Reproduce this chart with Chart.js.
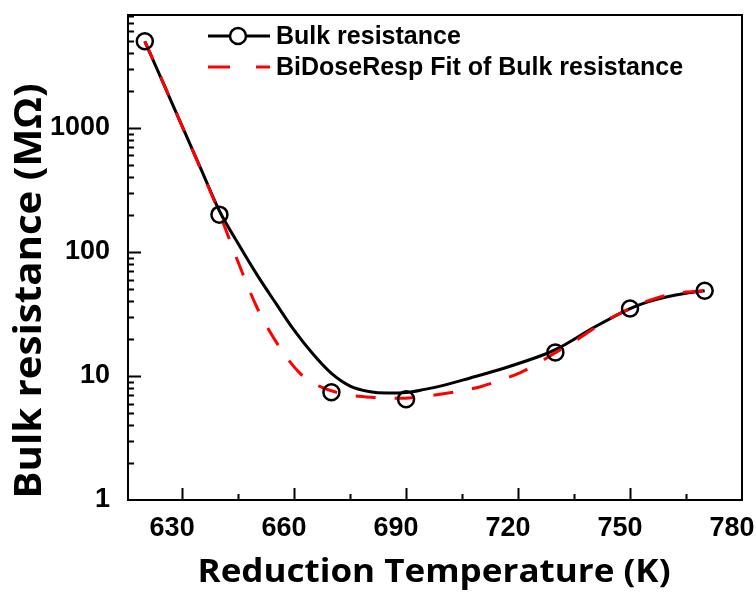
<!DOCTYPE html>
<html>
<head>
<meta charset="utf-8">
<script src="https://cdn.jsdelivr.net/npm/chart.js@4.4.1/dist/chart.umd.min.js"></script>
<style>
  html, body { margin: 0; padding: 0; background: #ffffff; }
  #wrap { width: 756px; height: 592px; position: relative; }
</style>
</head>
<body>
<div id="wrap"><canvas id="c" width="756" height="592"></canvas></div>
<script>
// ---- Data ----
const measuredTemps = [620, 640, 670, 690, 730, 750, 770];
const measuredResistance = [5000, 200, 7.4, 6.5, 15.5, 35, 48.7];

const smoothTemps = [620, 625, 630, 635, 640, 645, 650, 655, 660, 665, 670, 675, 680, 685, 690, 695, 700, 707, 716, 727, 730, 733, 740, 750, 755, 760, 765, 770];
const smoothResistance = [5000, 2275, 1035, 470, 214, 117, 66, 39, 23.4, 15.1, 10.5, 8.3, 7.5, 7.28, 7.35, 7.8, 8.4, 9.6, 11.5, 14.9, 16.3, 18.2, 24.3, 35, 39.8, 43.6, 46.5, 48.7];

const fitTemps = [620, 625, 630, 635, 640, 645.5, 650, 655.4, 661.6, 667, 675, 682, 688, 694, 700, 706, 710, 715, 720.5, 725, 729, 735.7, 740, 745, 751, 755, 760, 765, 770];
const fitResistance = [5000, 2300, 1030, 465, 205, 76, 36, 18.4, 10.5, 8.2, 7.0, 6.7, 6.6, 6.8, 7.2, 7.7, 8.2, 9.2, 10.6, 12.5, 14.8, 19.5, 23.8, 29.5, 36, 40.5, 45, 47.5, 48.7];

const xTickValues = [630, 660, 690, 720, 750, 780];
const yTickValues = [1, 10, 100, 1000];

const seriesNames = ["Bulk resistance", "BiDoseResp Fit of Bulk resistance"];
const xTitle = "Reduction Temperature (K)";
const yTitle = "Bulk resistance (M\u03A9)";

const toXY = (xs, ys) => xs.map((x, i) => ({ x: x, y: ys[i] }));

function fitText(ctx, text, cx, cy, targetW) {
  const w = ctx.measureText(text).width;
  const k = targetW / w;
  ctx.save();
  ctx.translate(cx, cy);
  ctx.scale(k, 1);
  ctx.fillText(text, 0, 0);
  ctx.restore();
}

const decorPlugin = {
  id: 'decor',
  afterDraw(chart) {
    const ctx = chart.ctx;
    const a = chart.chartArea;
    const xs = chart.scales.x, ys = chart.scales.y;
    ctx.save();
    // frame
    ctx.strokeStyle = '#000';
    ctx.lineWidth = 2;
    ctx.strokeRect(a.left, a.top, a.right - a.left, a.bottom - a.top);
    // x ticks (inward)
    ctx.beginPath();
    for (let v = 630; v <= 780; v += 15) {
      const px = Math.round(xs.getPixelForValue(v)) + 0.5;
      if (px <= a.left + 1 || px >= a.right - 1) continue;
      const len = ((v - 630) % 30 === 0) ? 12 : 6;
      ctx.moveTo(px, a.bottom);
      ctx.lineTo(px, a.bottom - len);
    }
    // y ticks (inward), major and minor
    for (let d = 1; d <= 1000; d *= 10) {
      for (let m = 1; m <= 9; m++) {
        const v = d * m;
        if (v > ys.max) continue;
        const py = Math.round(ys.getPixelForValue(v)) + 0.5;
        if (py <= a.top + 1 || py >= a.bottom - 1) continue;
        const len = m === 1 ? 13 : 6;
        ctx.moveTo(a.left, py);
        ctx.lineTo(a.left + len, py);
      }
    }
    ctx.stroke();

    // axis titles
    ctx.fillStyle = '#000';
    ctx.textAlign = 'center';
    ctx.textBaseline = 'middle';
    ctx.font = 'bold 32px "Open Sans", sans-serif';
    fitText(ctx, xTitle, 434, 573, 473);
    ctx.save();
    ctx.translate(30, 291);
    ctx.rotate(-Math.PI / 2);
    ctx.font = 'bold 37px "Open Sans", sans-serif';
    fitText(ctx, yTitle, 0, 0, 415);
    ctx.restore();

    // legend
    ctx.font = 'bold 25px "Liberation Sans", Arial, sans-serif';
    ctx.textAlign = 'left';
    ctx.textBaseline = 'middle';
    const ly1 = 36, ly2 = 67, lx0 = 208, lx1 = 270, tx = 276;
    ctx.strokeStyle = '#000';
    ctx.lineWidth = 3;
    ctx.beginPath();
    ctx.moveTo(lx0, ly1); ctx.lineTo(229, ly1);
    ctx.moveTo(247, ly1); ctx.lineTo(lx1, ly1);
    ctx.stroke();
    ctx.lineWidth = 2.5;
    ctx.beginPath();
    ctx.arc(238, ly1, 8, 0, Math.PI * 2);
    ctx.stroke();
    ctx.fillText(seriesNames[0], tx, ly1 + 1);
    ctx.strokeStyle = '#ff0000';
    ctx.lineWidth = 3;
    ctx.beginPath();
    ctx.moveTo(lx0, ly2); ctx.lineTo(230, ly2);
    ctx.moveTo(256, ly2); ctx.lineTo(lx1, ly2);
    ctx.stroke();
    ctx.fillText(seriesNames[1], tx, ly2 + 1);
    ctx.restore();
  }
};

new Chart(document.getElementById('c'), {
  type: 'line',
  data: {
    datasets: [
      {
        label: seriesNames[0] + ' (data)',
        data: toXY(measuredTemps, measuredResistance),
        showLine: false,
        pointStyle: 'circle',
        pointRadius: 8,
        pointBorderWidth: 2.5,
        pointBorderColor: '#000',
        pointBackgroundColor: 'rgba(0,0,0,0)'
      },
      {
        label: seriesNames[1],
        data: toXY(fitTemps, fitResistance),
        borderColor: '#ff0000',
        borderWidth: 3,
        borderDash: [20, 19],
        pointRadius: 0,
        cubicInterpolationMode: 'monotone',
        fill: false
      },
      {
        label: seriesNames[0],
        data: toXY(smoothTemps, smoothResistance),
        borderColor: '#000000',
        borderWidth: 3,
        pointRadius: 0,
        cubicInterpolationMode: 'monotone',
        fill: false
      }
    ]
  },
  options: {
    responsive: false,
    animation: false,
    devicePixelRatio: 1,
    layout: { padding: { top: 15, right: 14, left: 0, bottom: 0 } },
    plugins: { legend: { display: false }, tooltip: { enabled: false } },
    scales: {
      x: {
        type: 'linear',
        min: 615.5,
        max: 780,
        grid: { display: false, drawTicks: false },
        border: { display: false },
        afterBuildTicks: (s) => { s.ticks = xTickValues.map(v => ({ value: v })); },
        afterFit: (s) => { s.height = 92; s.paddingLeft = 0; s.paddingRight = 14; },
        ticks: {
          color: '#000',
          font: { family: '"Liberation Sans", Arial, sans-serif', size: 27, weight: 'bold' },
          padding: 12,
          labelOffset: -10,
          maxRotation: 0,
          autoSkip: false,
          callback: (v) => String(v)
        }
      },
      y: {
        type: 'logarithmic',
        min: 1,
        max: 8150,
        grid: { display: false, drawTicks: false },
        border: { display: false },
        afterBuildTicks: (s) => { s.ticks = yTickValues.map(v => ({ value: v })); },
        afterFit: (s) => { s.width = 128; s.paddingTop = 0; s.paddingBottom = 0; },
        ticks: {
          color: '#000',
          font: { family: '"Liberation Sans", Arial, sans-serif', size: 27, weight: 'bold' },
          padding: 18,
          autoSkip: false,
          callback: (v) => String(v)
        }
      }
    }
  },
  plugins: [decorPlugin]
});
</script>
</body>
</html>
